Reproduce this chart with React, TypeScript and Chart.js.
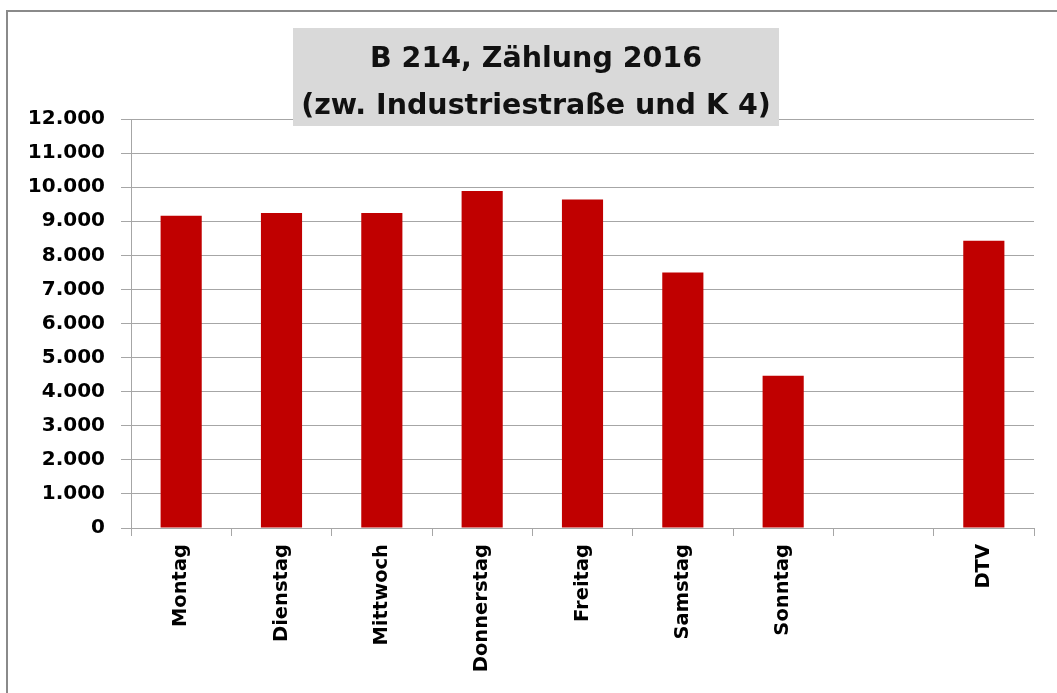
import React, { useEffect, useRef } from "react";
import { Chart, registerables } from "chart.js";

Chart.register(...registerables);

const categories = ["Montag", "Dienstag", "Mittwoch", "Donnerstag", "Freitag", "Samstag", "Sonntag", "", "DTV"];
const counts = [9160, 9240, 9240, 9890, 9640, 7500, 4470, null, 8430];
const titleLines = ["B 214, Zählung 2016", "(zw. Industriestraße und K 4)"];
const yMin = 0;
const yMax = 12000;
const yStep = 1000;

const W = 1057;
const H = 693;
const FONT = "'DejaVu Sans', sans-serif";

const fmt = (v: number) => String(Math.round(v)).replace(/\B(?=(\d{3})+(?!\d))/g, ".");

const framePlugin = {
  id: "frame",
  beforeDraw(chart: any) {
    const ctx = chart.ctx;
    ctx.save();
    ctx.fillStyle = "#ffffff";
    ctx.fillRect(0, 0, chart.width, chart.height);
    ctx.strokeStyle = "#8a8a8a";
    ctx.lineWidth = 2;
    ctx.strokeRect(7, 11, chart.width + 20, chart.height + 20);
    ctx.restore();
  },
  afterDraw(chart: any) {
    const ctx = chart.ctx;
    ctx.save();
    ctx.fillStyle = "#d9d9d9";
    ctx.fillRect(293, 28, 486, 98);
    ctx.fillStyle = "#111111";
    ctx.font = `bold 28.5px ${FONT}`;
    ctx.textAlign = "center";
    ctx.textBaseline = "alphabetic";
    ctx.fillText(titleLines[0], 536, 67);
    ctx.fillText(titleLines[1], 536, 114);
    ctx.restore();
  },
};

export default function App() {
  const ref = useRef<HTMLCanvasElement>(null);
  useEffect(() => {
    if (!ref.current) return;
    const chart = new Chart(ref.current, {
      type: "bar",
      data: {
        labels: categories,
        datasets: [
          {
            data: counts as any,
            backgroundColor: "#c00000",
            borderWidth: 0,
            barPercentage: 0.41,
            categoryPercentage: 1,
          },
        ],
      },
      options: {
        animation: false,
        responsive: false,
        maintainAspectRatio: false,
        layout: { padding: { top: 119, right: 23, left: 0, bottom: 0 } },
        plugins: { legend: { display: false }, tooltip: { enabled: false }, title: { display: false } },
        scales: {
          x: {
            offset: true,
            grid: {
              offset: true,
              drawOnChartArea: false,
              drawTicks: true,
              tickLength: 8,
              color: "#a6a6a6",
              lineWidth: 1,
            },
            border: { display: true, color: "#a6a6a6", width: 1 },
            ticks: {
              color: "#000000",
              font: { family: FONT, size: 19.5, weight: "bold" },
              minRotation: 90,
              maxRotation: 90,
              autoSkip: false,
              padding: 8,
            },
            afterFit(scale: any) {
              scale.height = 165;
            },
          },
          y: {
            min: yMin,
            max: yMax,
            grid: { color: "#a6a6a6", lineWidth: 1, drawTicks: true, tickLength: 10 },
            border: { display: true, color: "#a6a6a6", width: 1 },
            ticks: {
              stepSize: yStep,
              color: "#000000",
              font: { family: FONT, size: 20, weight: "bold" },
              padding: 16,
              callback: (v: any) => fmt(Number(v)),
            },
            afterFit(scale: any) {
              scale.width = 131;
            },
          },
        },
      },
      plugins: [framePlugin],
    });
    return () => chart.destroy();
  }, []);
  return (
    <div style={{ position: "fixed", left: 0, top: 0, width: W, height: H }}>
      <canvas ref={ref} width={W} height={H} style={{ width: W, height: H, display: "block" }} />
    </div>
  );
}
